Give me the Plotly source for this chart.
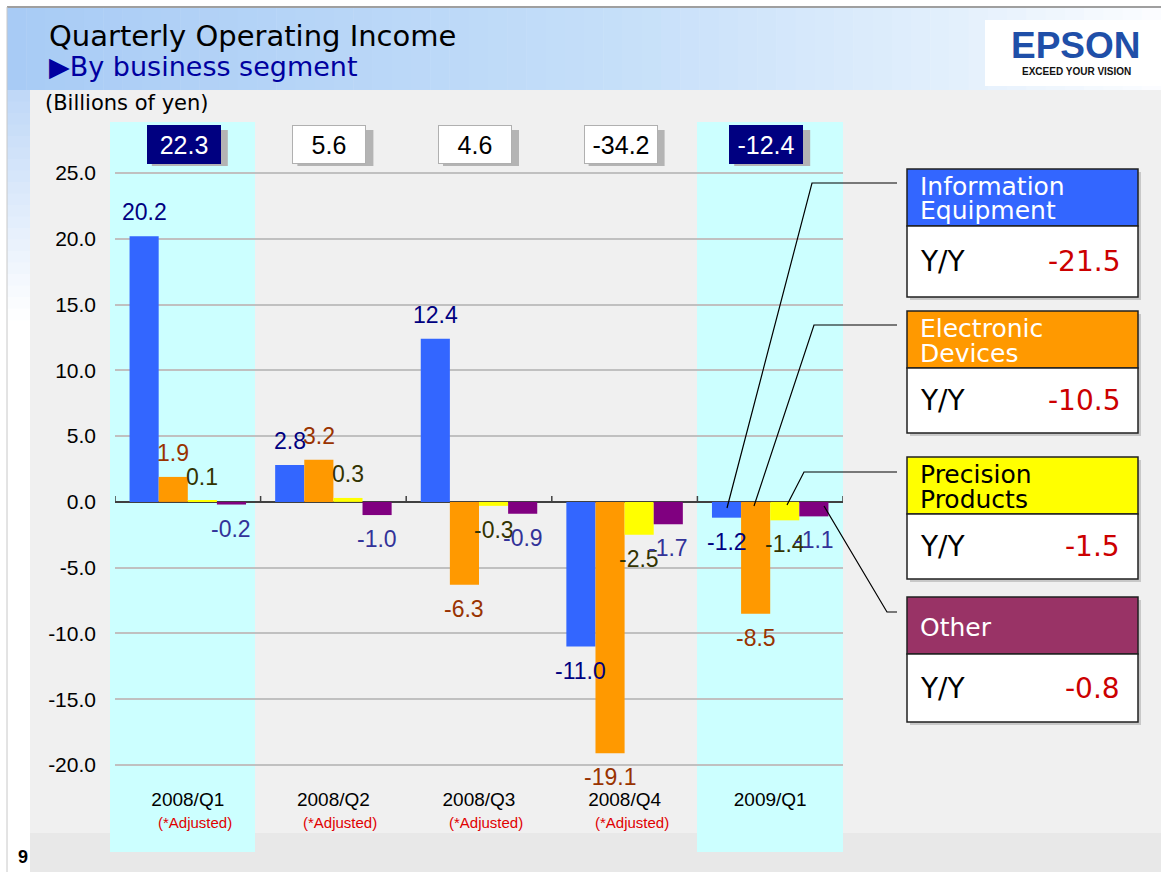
import plotly.graph_objects as go

# ---------------- data ----------------
quarters = ["2008/Q1", "2008/Q2", "2008/Q3", "2008/Q4", "2009/Q1"]
adjusted_note = ["(*Adjusted)", "(*Adjusted)", "(*Adjusted)", "(*Adjusted)", ""]
segments = ["Information Equipment", "Electronic Devices", "Precision Products", "Other"]
info_equipment = [20.2, 2.8, 12.4, -11.0, -1.2]
electronic_devices = [1.9, 3.2, -6.3, -19.1, -8.5]
precision_products = [0.1, 0.3, -0.3, -2.5, -1.4]
other = [-0.2, -1.0, -0.9, -1.7, -1.1]
totals = [22.3, 5.6, 4.6, -34.2, -12.4]
highlight_quarters = [True, False, False, False, True]
yoy_change = [-21.5, -10.5, -1.5, -0.8]
legend_header_lines = [["Information", "Equipment"], ["Electronic", "Devices"],
                       ["Precision", "Products"], ["Other"]]
y_tick_values = [25, 20, 15, 10, 5, 0, -5, -10, -15, -20]
y_tick_text = ["25.0", "20.0", "15.0", "10.0", "5.0", "0.0", "-5.0", "-10.0", "-15.0", "-20.0"]

# ---------------- styles ----------------
bar_colors = ["#3366FF", "#FF9900", "#FFFF00", "#800080"]
label_colors = ["#000080", "#993300", "#333300", "#333399"]
header_colors = ["#3366FF", "#FF9900", "#FFFF00", "#993366"]
header_text_colors = ["white", "white", "black", "white"]

W, H = 1161, 872
L, R, T, B = 115, 318, 122, 92
PW, PH = W - L - R, H - T - B
YMAX = 28.88
YMIN = -21.14


def px(x):
    return (x - L) / PW


def py(y):
    return (H - B - y) / PH


fig = go.Figure()
series = [info_equipment, electronic_devices, precision_products, other]
for name, vals, col in zip(segments, series, bar_colors):
    fig.add_trace(go.Bar(x=quarters, y=vals, name=name, marker_color=col,
                         marker_line_width=0, showlegend=False))

shapes = []
annotations = []


def rect(x0, y0, x1, y1, fill, line_color=None, lw=0, layer="below"):
    shapes.append(dict(type="rect", xref="paper", yref="paper",
                       x0=px(x0), x1=px(x1), y0=py(y0), y1=py(y1),
                       fillcolor=fill, layer=layer,
                       line=dict(color=line_color or fill, width=lw)))


def lerp_color(stops, v):
    for (a, ca), (b, cb) in zip(stops[:-1], stops[1:]):
        if a <= v <= b:
            t = (v - a) / (b - a)
            c = [round(ca[i] + (cb[i] - ca[i]) * t) for i in range(3)]
            return "rgb(%d,%d,%d)" % tuple(c)
    c = stops[-1][1]
    return "rgb(%d,%d,%d)" % tuple(c)


# header gradient
stops = [(7, (168, 203, 245)), (600, (196, 222, 249)), (950, (226, 239, 252)), (1161, (252, 253, 255))]
n = 60
for i in range(n):
    x0 = 7 + (W - 7) * i / n
    x1 = 7 + (W - 7) * (i + 1) / n + 0.5
    rect(x0, 8, x1, 90, lerp_color(stops, (x0 + x1) / 2))
# left strip gradient
vstops = [(90, (190, 215, 247)), (320, (255, 255, 255))]
for i in range(20):
    y0 = 90 + 230 * i / 20
    y1 = 90 + 230 * (i + 1) / 20 + 0.5
    rect(7, y0, 30, y1, lerp_color(vstops, (y0 + y1) / 2))
# panels
rect(30, 90, W, 833, "#F0F0F0")
rect(30, 833, W, H, "#E8E8E8")
# top & left frame lines
shapes.append(dict(type="line", xref="paper", yref="paper", x0=px(7), x1=px(W), y0=py(7), y1=py(7),
                   line=dict(color="#7F7F7F", width=1.5), layer="below"))
shapes.append(dict(type="line", xref="paper", yref="paper", x0=px(7), x1=px(7), y0=py(7), y1=py(H),
                   line=dict(color="#C8C8C8", width=1), layer="below"))
# logo background
rect(985, 20, W, 86, "#FFFFFF")

# cyan highlight bands
band_px = {0: (110, 255), 4: (697, 843)}
for c, hl in enumerate(highlight_quarters):
    if hl:
        x0, x1 = band_px[c]
        rect(x0, 122, x1, 852, "#CCFFFF")

# zero-line ticks at category boundaries
for c in range(len(quarters) + 1):
    shapes.append(dict(type="line", xref="x", yref="y", x0=c - 0.5, x1=c - 0.5, y0=0, y1=0.45,
                       line=dict(color="#404040", width=1.5), layer="above"))

# value labels
nser = len(series)
bw = 0.8 / nser
for i, vals in enumerate(series):
    for c, v in enumerate(vals):
        annotations.append(dict(x=c + (i - (nser - 1) / 2) * bw, y=v, xref="x", yref="y",
                                text="%.1f" % v, showarrow=False,
                                yshift=24 if v >= 0 else -24, yanchor="middle",
                                font=dict(family="Liberation Sans", size=23, color=label_colors[i])))

# total boxes (with shadows drawn as pixel-sized shapes)
for c, (tot, hl) in enumerate(zip(totals, highlight_quarters)):
    bg = "#000080" if hl else "#FFFFFF"
    fc = "#FFFFFF" if hl else "#000000"
    bc = "#000080" if hl else "#B0B0B0"
    shapes.append(dict(type="rect", xref="x", yref="paper", xsizemode="pixel", ysizemode="pixel",
                       xanchor=c, yanchor=py(144), x0=-36, x1=40, y0=-22, y1=14,
                       fillcolor="#B4B4B4", line=dict(width=0), layer="above"))
    annotations.append(dict(x=c, y=py(144), xref="x", yref="paper", text="%.1f" % tot,
                            showarrow=False, xshift=-4, width=66, height=31,
                            yanchor="middle",
                            bgcolor=bg, bordercolor=bc, borderwidth=1, borderpad=3,
                            font=dict(family="Liberation Sans", size=25, color=fc)))

# "(*Adjusted)" notes
for c, note in enumerate(adjusted_note):
    if note:
        annotations.append(dict(x=c, y=py(822), xref="x", yref="paper", text=note, showarrow=False,
                                xshift=7, yanchor="middle",
                                font=dict(family="Liberation Sans", size=15, color="#E00000")))

# legend boxes on the right
box_x0, box_x1 = 907, 1138
tops = [169, 311, 457, 597]
head_h = 57
bottoms = [297, 433, 579, 722]
for k in range(len(segments)):
    t0, hb, b1 = tops[k], tops[k] + head_h, bottoms[k]
    rect(box_x0 + 3, t0 + 3, box_x1 + 3, b1 + 3, "#C8C8C8", layer="above")
    rect(box_x0, t0, box_x1, hb, header_colors[k], "#202020", 1.5, layer="above")
    rect(box_x0, hb, box_x1, b1, "#FFFFFF", "#202020", 1.5, layer="above")
    lines = legend_header_lines[k]
    if len(lines) == 2:
        ys = [t0 + 17, t0 + 42]
    else:
        ys = [t0 + 30]
    for txt, yy in zip(lines, ys):
        annotations.append(dict(x=px(918), y=py(yy), xref="paper", yref="paper", text=txt,
                                showarrow=False, xanchor="left", yanchor="middle",
                                font=dict(family="DejaVu Sans", size=25, color=header_text_colors[k])))
    ym = (hb + b1) / 2
    annotations.append(dict(x=px(918), y=py(ym), xref="paper", yref="paper", text="Y/Y",
                            showarrow=False, xanchor="left", yanchor="middle",
                            font=dict(family="DejaVu Sans", size=28, color="#000000")))
    annotations.append(dict(x=px(1122), y=py(ym), xref="paper", yref="paper", text="%.1f" % yoy_change[k],
                            showarrow=False, xanchor="right", yanchor="middle",
                            font=dict(family="DejaVu Sans", size=28, color="#CC0000")))

# leader lines
leaders = [
    [(897, 183), (812, 183), (727, 508)],
    [(897, 325), (814, 325), (754, 506)],
    [(897, 472), (804, 472), (787, 505)],
    [(824, 506), (887, 612), (897, 612)],
]
for pts in leaders:
    path = "M " + " L ".join("%f,%f" % (px(a), py(b)) for a, b in pts)
    shapes.append(dict(type="path", xref="paper", yref="paper", path=path,
                       line=dict(color="#000000", width=1.2), layer="above"))

# titles and texts
annotations.append(dict(x=px(47), y=py(36), xref="paper", yref="paper", text="Quarterly Operating Income",
                        showarrow=False, xanchor="left", yanchor="middle",
                        font=dict(family="DejaVu Sans", size=29, color="#000000")))
annotations.append(dict(x=px(47), y=py(67), xref="paper", yref="paper", text="▶By business segment",
                        showarrow=False, xanchor="left", yanchor="middle",
                        font=dict(family="DejaVu Sans", size=27, color="#0000A0")))
annotations.append(dict(x=px(43), y=py(103), xref="paper", yref="paper", text="(Billions of yen)",
                        showarrow=False, xanchor="left", yanchor="middle",
                        font=dict(family="DejaVu Sans", size=21, color="#000000")))
annotations.append(dict(x=px(1076), y=py(46), xref="paper", yref="paper", text="<b>EPSON</b>",
                        showarrow=False, xanchor="center", yanchor="middle", borderpad=0,
                        font=dict(family="Liberation Sans", size=37, color="#1F4FA8")))
annotations.append(dict(x=px(1076), y=py(72), xref="paper", yref="paper", text="<b>EXCEED YOUR VISION</b>",
                        showarrow=False, xanchor="center", yanchor="middle", borderpad=0,
                        font=dict(family="Liberation Sans", size=10, color="#111111")))
annotations.append(dict(x=px(16), y=py(857), xref="paper", yref="paper", text="<b>9</b>",
                        showarrow=False, xanchor="left", yanchor="middle",
                        font=dict(family="Liberation Sans", size=18, color="#000000")))

fig.update_layout(
    width=W, height=H,
    margin=dict(l=L, r=R, t=T, b=B, pad=0),
    paper_bgcolor="#FFFFFF", plot_bgcolor="rgba(0,0,0,0)",
    barmode="group", bargap=0.2, bargroupgap=0,
    shapes=shapes, annotations=annotations,
    showlegend=False,
)
fig.update_xaxes(type="category", categoryorder="array", categoryarray=quarters,
                 range=[-0.5, len(quarters) - 0.5], showgrid=False, showline=False, ticks="",
                 tickfont=dict(family="Liberation Sans", size=19, color="#000000"),
                 ticklabelstandoff=6)
fig.update_yaxes(range=[YMIN, YMAX], tickvals=y_tick_values, ticktext=y_tick_text,
                 showgrid=True, gridcolor="#C0C0C0", gridwidth=1.5,
                 zeroline=True, zerolinecolor="#404040", zerolinewidth=2,
                 showline=False, ticks="", ticklabelstandoff=18,
                 tickfont=dict(family="Liberation Sans", size=21, color="#000000"))

fig.write_html("out.html", config={"displayModeBar": False},
               post_script="document.body.style.margin='0';document.body.style.overflow='hidden';")
